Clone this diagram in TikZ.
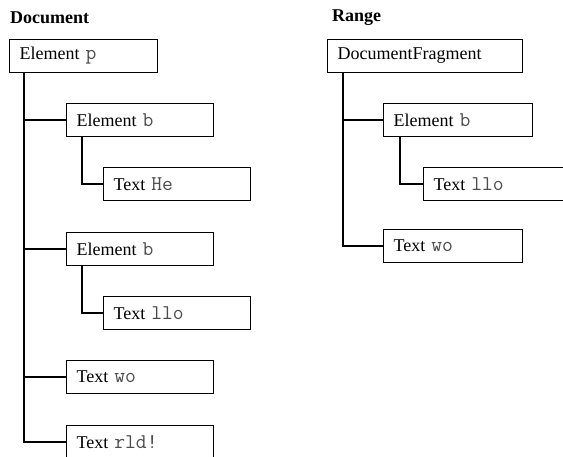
\documentclass[tikz,border=0pt]{standalone}
\usepackage{fontspec}
\setmainfont{Liberation Serif}
\definecolor{codegray}{gray}{0.3}
\newcommand{\code}[1]{{\fontsize{21}{22}\selectfont\ttfamily\color{codegray}#1}}

\begin{document}
\begin{tikzpicture}[x=1pt,y=-1pt,font=\fontsize{18}{20}\selectfont,
  treebox/.style={draw,line width=1.2pt,anchor=north west,minimum height=32.5pt,
    inner xsep=10pt,text width=#1,align=left},
  treetitle/.style={anchor=west,inner sep=0pt,font=\fontsize{18}{20}\selectfont\bfseries},
  link/.style={line width=1.6pt}]
\useasboundingbox (0,0) rectangle (563,456);

\node[treetitle] (doc) at (10,18) {Document};
\node[treebox=128pt] (p) at (9,39) {Element \code{p}};
\node[treebox=127pt] (b1) at (66,103) {Element \code{b}};
\node[treebox=127pt] (he) at (103,167) {Text \code{He}};
\node[treebox=127pt] (b2) at (66,232) {Element \code{b}};
\node[treebox=127pt] (llo) at (103,296) {Text \code{llo}};
\node[treebox=127pt] (wo) at (66,360) {Text \code{wo}};
\node[treebox=127pt] (rld) at (66,425) {Text \code{rld!}};

\draw[link] (p.south west) ++(15,0) |- (b1.west);
\draw[link] (p.south west) ++(15,0) |- (b2.west);
\draw[link] (p.south west) ++(15,0) |- (wo.west);
\draw[link] (p.south west) ++(15,0) |- (rld.west);
\draw[link] (b1.south west) ++(16,0) |- (he.west);
\draw[link] (b2.south west) ++(16,0) |- (llo.west);

\node[treetitle] (rng) at (332,18) {Range};
\node[treebox=175pt] (frag) at (327,39) {DocumentFragment};
\node[treebox=129pt] (rb) at (383,103) {Element \code{b}};
\node[treebox=127pt] (rllo) at (423,167) {Text \code{llo}};
\node[treebox=119pt] (rwo) at (383,229) {Text \code{wo}};

\draw[link] (frag.south west) ++(16,0) |- (rb.west);
\draw[link] (frag.south west) ++(16,0) |- (rwo.west);
\draw[link] (rb.south west) ++(17,0) |- (rllo.west);
\end{tikzpicture}
\end{document}
